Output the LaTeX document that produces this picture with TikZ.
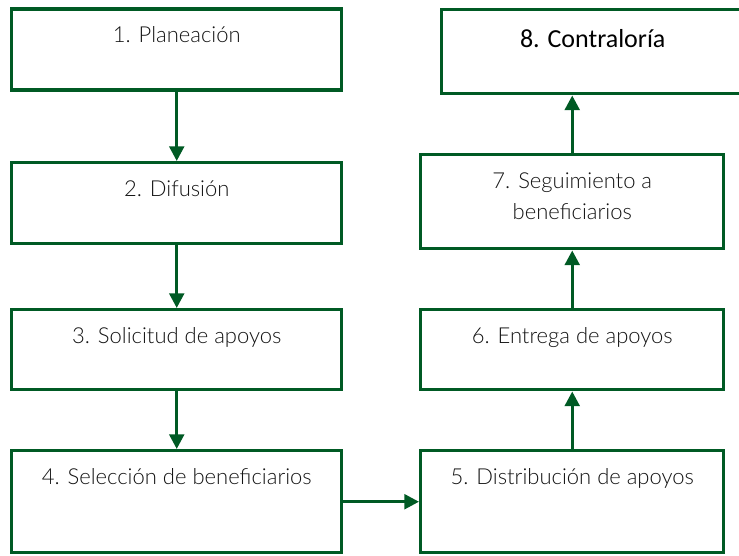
\documentclass[tikz,border=0pt]{standalone}
\usepackage{fontspec}
\setmainfont{Lato Light}
\newfontfamily\calibri{Carlito}
\usetikzlibrary{arrows.meta}
\definecolor{verde}{RGB}{0,90,36}
\definecolor{texto}{RGB}{20,20,20}

\begin{document}
\begin{tikzpicture}[x=0.75pt,y=-0.75pt,
    paso/.style={draw=verde, line width=2.6pt, fill=white, inner sep=0pt,
      text=texto, align=center, anchor=north west,
      font=\fontsize{16.5}{23.25}\selectfont, text height=25pt},
    flecha/.style={draw=verde, line width=2.4pt,
      -{Triangle[width=11pt,length=11pt]}}]
		% Fixed frame of the picture
		\useasboundingbox (0,0) rectangle (739,556);

		% Left column, going down
		\node[paso, minimum width=247.5pt, text depth=35.75pt] (b1) at (10,7.5) {1. Planeación};
		\node[paso, minimum width=247.5pt, text depth=35.75pt] (b2) at (10,161) {2. Difusión};
		\node[paso, minimum width=247.5pt, text depth=35pt] (b3) at (10,308) {3. Solicitud de apoyos};
		\node[paso, minimum width=247.5pt, text depth=51.5pt] (b4) at (10,449) {4. Selección de beneficiarios};

		% Right column, going up
		\node[paso, minimum width=227.25pt, text depth=51.5pt] (b5) at (419,449) {5. Distribución de apoyos};
		\node[paso, minimum width=227.25pt, text depth=35pt] (b6) at (419,308) {6. Entrega de apoyos};
		\node[paso, minimum width=227.25pt, text height=48.25pt, text depth=22.25pt] (b7) at (419,153) {7. Seguimiento a\\beneficiarios};
		\node[paso, minimum width=226.5pt, text height=28pt, text depth=35pt,
		  font=\calibri\fontsize{19.5}{22}\selectfont, text=black] (b8) at (440,8) {8. Contraloría};

		% Arrows between the steps
		\draw[flecha] (b1.south) -- (b2.north);
		\draw[flecha] (b2.south) -- (b3.north);
		\draw[flecha] (b3.south) -- (b4.north);
		\draw[flecha] (b4.east) -- (b5.west);
		\draw[flecha] (b5.north) -- (b6.south);
		\draw[flecha] (b6.north) -- (b7.south);
		\draw[flecha] (b7.north) -- (b7.north |- b8.south);
\end{tikzpicture}
\end{document}
